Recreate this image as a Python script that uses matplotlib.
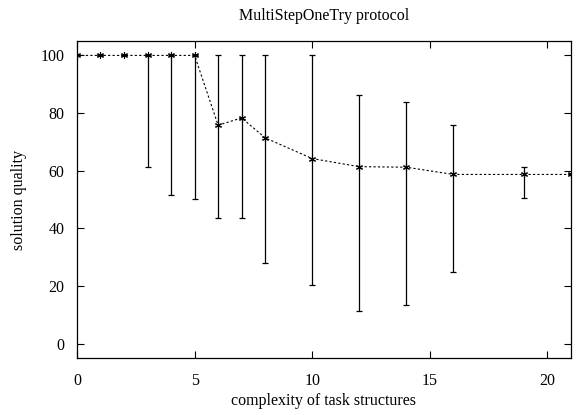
import matplotlib.pyplot as plt
import numpy as np

plt.rcParams["font.family"] = ["Liberation Serif", "DejaVu Serif"]

# mean solution quality per task complexity, with min/max range
complexity = [0, 1, 2, 3, 4, 5, 6, 7, 8, 10, 12, 14, 16, 19, 21]
quality = [100, 100, 100, 100, 100, 100, 75.8, 78.3, 71.4, 64.2, 61.4, 61.2, 58.7, 58.7, 58.7]
q_low = [100, 100, 100, 61.4, 51.5, 50.2, 43.5, 43.5, 28.1, 20.4, 11.2, 13.3, 25.0, 50.4, 58.7]
q_high = [100, 100, 100, 100, 100, 100, 100, 100, 100, 100, 86.2, 83.8, 75.8, 61.2, 58.7]

x = np.array(complexity)
y = np.array(quality)
yerr = [y - np.array(q_low), np.array(q_high) - y]

fig = plt.figure(figsize=(5.77, 4.15), dpi=100)
ax = fig.add_axes([0.1334, 0.1373, 0.8562, 0.7639])

ax.errorbar(x, y, yerr=yerr, fmt="none", ecolor="black", elinewidth=0.9,
            capsize=2.5, capthick=0.9)
ax.plot(x, y, color="black", linestyle=(0, (2, 2)), linewidth=0.8,
        marker=(6, 2, 0), markersize=5, markeredgewidth=0.8)

ax.set_xlim(0, 21)
ax.set_ylim(-5, 105)
ax.set_xticks([0, 5, 10, 15, 20])
ax.set_yticks([0, 20, 40, 60, 80, 100])
ax.tick_params(direction="in", top=True, right=True, length=5, width=0.8,
               labelsize=11.5)
ax.tick_params(axis="x", pad=11)
ax.tick_params(axis="y", pad=9)
for s in ax.spines.values():
    s.set_linewidth(0.9)

ax.set_xlabel("complexity of task structures", fontsize=11.5, labelpad=3)
ax.set_ylabel("solution quality", fontsize=11.5, labelpad=10)
ax.set_title("MultiStepOneTry protocol", fontsize=11.5, pad=15)

fig.savefig("out.png", dpi=100)
